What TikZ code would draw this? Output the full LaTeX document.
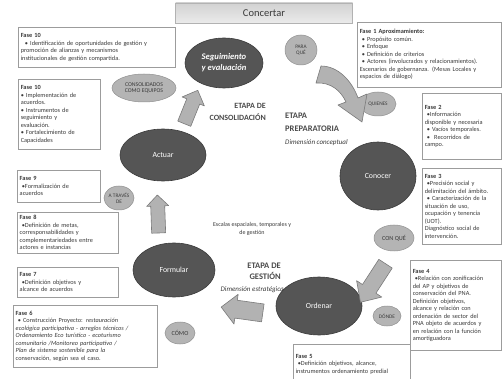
\documentclass[tikz,border=0pt]{standalone}
\usepackage{fontspec}
\setmainfont{Carlito}
\usetikzlibrary{shapes.geometric}
\definecolor{dark}{HTML}{555555}
\definecolor{darkline}{HTML}{3A3A3A}
\definecolor{lightell}{HTML}{B4B4B4}
\definecolor{lightline}{HTML}{909090}
\definecolor{boxline}{HTML}{9C9C9C}
\definecolor{txt}{HTML}{3A3A3A}
\definecolor{stagetxt}{HTML}{4A4A4A}
\definecolor{arrowfill}{HTML}{B2B2B2}
\definecolor{arrowline}{HTML}{7A7A7A}
\definecolor{banner}{HTML}{D2D2D2}
\tikzset{
 fasebox/.style={draw=boxline, fill=white, line width=0.5pt, anchor=north west, align=left, inner xsep=2.5pt, inner ysep=2pt, font=\fontsize{6.3}{7.5}\selectfont, text=txt},
 bigell/.style={ellipse, fill=dark, draw=darkline, line width=0.6pt, text=white, inner sep=0pt, align=center, font=\fontsize{7.8}{9}\selectfont},
 smallell/.style={ellipse, fill=lightell, draw=lightline, line width=0.5pt, text=txt, inner sep=0pt, align=center, font=\fontsize{5.3}{6}\selectfont},
 blockarrow/.style={fill=arrowfill, draw=arrowline, line width=0.6pt, line join=round},
 stage/.style={font=\bfseries\fontsize{8.5}{13}\selectfont, text=stagetxt, inner sep=0pt},
 dimlbl/.style={inner sep=0pt, text=txt, font=\itshape\fontsize{7}{8}\selectfont},
 plainlbl/.style={font=\fontsize{6}{8}\selectfont, text=txt, inner sep=0pt, align=center},
}
\begin{document}
\begin{tikzpicture}[x=1pt,y=-1pt]
\useasboundingbox[fill=white] (0,0) rectangle (503,379);

% banner
\node[draw=banner!85!black, line width=0.3pt, top color=banner, bottom color=banner!45, minimum width=177pt, minimum height=20pt, inner sep=0pt, font=\fontsize{10.5}{12}\selectfont, text=txt] (concertar) at (264,13) {Concertar};

% phase boxes
\node[fasebox, text width=152pt, minimum height=40pt] (f10a) at (18,27) {\textbf{Fase 10}\\
\ \ • Identificación de oportunidades de gestión y\\
promoción de alianzas y mecanismos\\
institucionales de gestión compartida.};

\node[fasebox, text width=139pt, minimum height=65pt] (f1) at (357,22) {\textbf{Fase 1 Aproximamiento:}\\
\ • Propósito común.\\
\ • Enfoque\\
\ • Definición de criterios\\
\ • Actores (involucrados y relacionamientos).\\
Escenarios de gobernanza. (Mesas Locales y\\
espacios de diálogo)};

\node[fasebox, text width=74pt, minimum height=66pt] (f2) at (422,93) {\textbf{Fase 2}\\
\ •Información\\
disponible y necesaria\\
\ • Vacíos temporales.\\
\ • \ Recorridos de\\
campo.};

\node[fasebox, text width=74pt, minimum height=76pt] (f3) at (422,168) {\textbf{Fase 3}\\
\ •Precisión social y\\
delimitación del ámbito.\\
\ • Caracterización de la\\
situación de uso,\\
ocupación y tenencia\\
(UOT).\\
Diagnóstico social de\\
intervención.};

\node[fasebox, text width=86pt, minimum height=90pt] (f4) at (410,260) {\textbf{Fase 4}\\
\ •Relación con zonificación\\
del AP y objetivos de\\
conservación del PNA.\\
Definición objetivos,\\
alcance y relación con\\
ordenación de sector del\\
PNA objeto de acuerdos y\\
en relación con la función\\
amortiguadora};

\node[fasebox, text width=112pt, minimum height=40pt] (f5) at (293,344) {\textbf{Fase 5}\\
\ •Definición objetivos, alcance,\\
instrumentos ordenamiento predial\\[6pt]};

\node[fasebox, text width=139pt, minimum height=62pt] (f6) at (13,305) {\textbf{Fase 6}\\
\ • Construcción Proyecto: \textit{restauración}\\
\textit{ecológica participativa - arreglos técnicos /}\\
\textit{Ordenamiento Eco turístico - ecoturismo}\\
\textit{comunitario /Monitoreo participativo /}\\
\textit{Plan de sistema sostenible para la}\\
conservación, según sea el caso.};

\node[fasebox, text width=96pt, minimum height=30pt] (f7) at (17,267) {\textbf{Fase 7}\\
\ •Definición objetivos y\\
alcance de acuerdos};

\node[fasebox, text width=96pt, minimum height=41pt] (f8) at (17,212) {\textbf{Fase 8}\\
\ •Definición de metas,\\
corresponsabilidades y\\
complementariedades entre\\
actores e instancias};

\node[fasebox, text width=78pt, minimum height=32pt] (f9) at (17,170) {\textbf{Fase 9}\\
\ •Formalización de\\
acuerdos};

\node[fasebox, text width=77pt, minimum height=70pt] (f10b) at (18,79) {\textbf{Fase 10}\\
• Implementación de\\
acuerdos.\\
• Instrumentos de\\
seguimiento y\\
evaluación.\\
• Fortalecimiento de\\
Capacidades};

% big ellipses
\node[bigell, minimum width=78pt, minimum height=50pt, font=\bfseries\itshape\fontsize{8.6}{11}\selectfont] (seg) at (224,63) {Seguimiento\\y evaluación};
\node[bigell, minimum width=76pt, minimum height=68pt] (conocer) at (378,176) {Conocer};
\node[bigell, minimum width=86pt, minimum height=58pt] (ordenar) at (319,306) {Ordenar};
\node[bigell, minimum width=82pt, minimum height=54pt] (formular) at (174,270) {Formular};
\node[bigell, minimum width=86pt, minimum height=52pt] (actuar) at (163,155) {Actuar};

% small ellipses
\node[smallell, minimum width=32pt, minimum height=30pt] (paraque) at (301,50) {PARA\\QUÉ};
\node[smallell, minimum width=36pt, minimum height=24pt] (quienes) at (378,104) {QUIENES};
\node[smallell, minimum width=40pt, minimum height=26pt, font=\fontsize{6.2}{7}\selectfont] (conque) at (394,238) {CON QUÉ};
\node[smallell, minimum width=28pt, minimum height=20pt] (donde) at (387,316) {DÓNDE};
\node[smallell, minimum width=30pt, minimum height=22pt, font=\fontsize{6.2}{7}\selectfont] (como) at (180,333) {CÓMO};
\node[smallell, minimum width=30pt, minimum height=24pt] (atraves) at (119,198) {A TRAVÉS\\DE};
\node[smallell, minimum width=64pt, minimum height=28pt, font=\fontsize{5.8}{6.4}\selectfont] (consol) at (144,88) {CONSOLIDADOS\\COMO EQUIPOS};

% block arrows
\draw[blockarrow] (316,83) .. controls (331,82) and (341,91) .. (346,102) -- (338,105) -- (362,122) -- (367,94) -- (358,98) .. controls (352,81) and (338,66) .. (321,66) -- cycle;
\begin{scope}[shift={(373,283)}, rotate=-123]
\draw[blockarrow] (-23,-8) -- (7,-8) -- (7,-15) -- (23,0) -- (7,15) -- (7,8) -- (-23,8) -- cycle;
\end{scope}
\begin{scope}[shift={(242,310)}, rotate=172]
\draw[blockarrow] (-21,-9) -- (6,-9) -- (6,-15) -- (21,0) -- (6,15) -- (6,9) -- (-21,9) -- cycle;
\end{scope}
\begin{scope}[shift={(158,214)}, rotate=92]
\draw[blockarrow] (-19,-7) -- (8,-7) -- (8,-11) -- (19,0) -- (8,11) -- (8,7) -- (-19,7) -- cycle;
\end{scope}
\begin{scope}[shift={(191,107)}, rotate=68]
\draw[blockarrow] (-18,-7) -- (6,-7) -- (6,-12) -- (18,0) -- (6,12) -- (6,7) -- (-18,7) -- cycle;
\end{scope}

% stage labels
\node[stage, align=right, anchor=north east, font=\bfseries\fontsize{8}{12}\selectfont] (consolid) at (266,103) {ETAPA DE\\CONSOLIDACIÓN};
\node[stage, align=left, anchor=north west] (prep) at (285,113) {ETAPA\\PREPARATORIA};
\node[dimlbl, anchor=north west] (prepdim) at (285,139) {Dimensión conceptual};
\node[stage, align=right, anchor=north east, font=\bfseries\fontsize{8.5}{11}\selectfont] (gest) at (281,263) {ETAPA DE\\GESTIÓN};
\node[dimlbl, anchor=north east] (gestdim) at (284,286) {Dimensión estratégica};
\node[plainlbl] (escalas) at (252,229) {Escalas espaciales, temporales y\\de gestión};
\end{tikzpicture}
\end{document}
